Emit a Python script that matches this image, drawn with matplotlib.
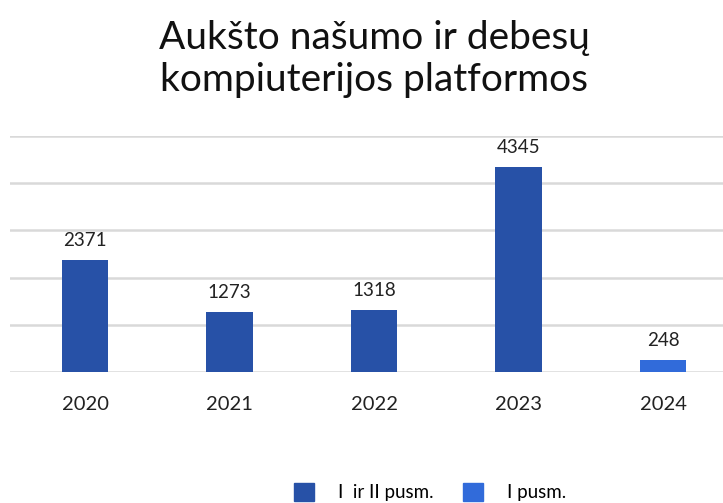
import matplotlib
matplotlib.use("Agg")
import matplotlib.pyplot as plt
from matplotlib.patches import Patch

plt.rcParams['font.family'] = ['Lato', 'DejaVu Sans']

years = ["2020", "2021", "2022", "2023", "2024"]
values = [2371, 1273, 1318, 4345, 248]
series = ["I  ir II pusm.", "I  ir II pusm.", "I  ir II pusm.", "I  ir II pusm.", "I pusm."]
series_names = ["I  ir II pusm.", "I pusm."]
series_colors = {"I  ir II pusm.": "#2751A7", "I pusm.": "#316BDA"}
title = "Aukšto našumo ir debesų\nkompiuterijos platformos"

fig = plt.figure(figsize=(7.23, 5.03), dpi=100)
ax = fig.add_axes([10/723, 1 - 372/503, 713/723, (372 - 136)/503])

x = list(range(len(years)))
colors = [series_colors[s] for s in series]
bars = ax.bar(x, values, width=0.32, color=colors, zorder=3)
for xi, v in zip(x, values):
    ax.annotate(str(v), (xi, v), xytext=(0, 8), textcoords="offset points",
                ha="center", va="bottom", fontsize=13.5, color="#222222")

ax.set_ylim(0, 5000)
ax.set_xlim(-0.52, 4.415)
ax.set_yticks(range(0, 5001, 1000))
ax.yaxis.grid(True, color="#D9D9D9", linewidth=1.8, zorder=0)
ax.tick_params(axis="y", left=False, labelleft=False)
ax.tick_params(axis="x", bottom=False, labelsize=14.5, pad=14)
ax.set_xticks(x)
ax.set_xticklabels(years, color="#222222")
for s in ax.spines.values():
    s.set_visible(False)

fig.text(374/723, 1 - 59/503, title, ha="center", va="center", fontsize=28,
         linespacing=1.2, color="#111111")

handles = [Patch(color=series_colors[n], label=n) for n in series_names]
fig.legend(handles=handles, loc="center", bbox_to_anchor=(430/723, 1 - 492/503),
           ncol=2, frameon=False, fontsize=13.5, handlelength=1.07, handleheight=1.07,
           handletextpad=1.25, columnspacing=1.6)

fig.savefig("out.png", dpi=100)
